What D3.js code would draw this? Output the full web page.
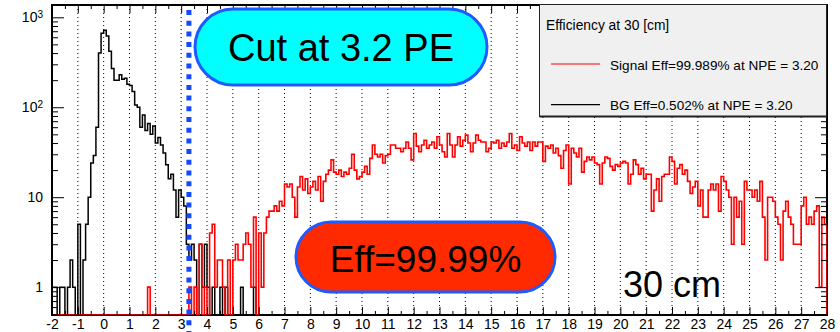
<!DOCTYPE html>
<html>
<head>
<meta charset="utf-8">
<script src="https://cdn.jsdelivr.net/npm/d3@7/dist/d3.min.js"></script>
<style>
  body { margin: 0; background: #fff; }
  svg { display: block; }
  text { font-family: "Liberation Sans", Arial, Helvetica, sans-serif; }
</style>
</head>
<body>
<svg id="chart" width="840" height="332"></svg>
<script>
// Histogram binning (NPE)
const binLow = -2;
const binWidth = 0.1;

// Signal counts per 0.1 PE bin, from -2.0 up to 27.9
const signalCounts = [
  0,0,0,0,0,0,0,0,0,0,
  0,0,0,0,0,0,0,0,0,0,
  0,0,0,0,0,0,0,0,0,0,
  0,0,0,0,0,0,0,1,0,0,
  0,0,0,0,0,0,0,0,0,0,
  0,0,0,1,0,1,0,3,0,1,
  0,4,5,1,2,2,1,0,2,0,
  2,3,2,2,3,4,3,1,6,0,
  4,1,4,6,7,7,8,7,9,8,
  14,13,14,10,6,13,17,12,16,11,
  13,15,12,17,9,15,18,20,26,19,
  18,20,17,19,18,21,30,20,16,17,
  19,22,18,27,38,30,28,30,24,29,
  30,38,38,35,35,32,35,41,35,26,
  51,37,32,38,43,35,38,41,35,47,
  38,32,28,51,38,28,38,47,37,43,
  49,40,32,40,49,43,41,41,32,35,
  41,40,43,35,40,37,41,51,35,38,
  33,47,40,37,41,33,41,37,41,41,
  25,37,35,38,31,35,29,21,33,38,
  14,35,31,28,35,19,25,28,26,28,
  24,23,14,24,28,27,22,20,23,22,
  24,25,24,14,18,26,23,18,21,16,
  18,18,7,12,16,9,17,18,18,28,
  25,14,21,23,18,20,15,11,13,15,
  8,12,6,6,12,14,12,14,7,17,
  15,12,10,3,10,6,9,3,15,12,
  12,10,12,9,15,6,2,10,10,9,
  6,5,2,7,9,6,5,3,3,3,
  8,10,5,6,5,7,8,1,6,5
];

// Background counts per 0.1 PE bin, from -2.0 up to 5.9
const bgCounts = [
  1,1,0,1,1,0,1,2,1,0,
  5,0,2,5,10,24,29,60,400,665,
  720,620,420,270,200,200,230,205,210,180,
  175,150,106,100,60,82,55,66,50,62,
  40,46,38,31,23,16,18,12,6,12,
  10,8,3,2,3,2,0,3,1,3,
  1,0,1,0,0,1,0,1,0,0,
  0,0,0,1,0,0,0,0,1,0
];

const xDomain = [-2, 28];
const yDomain = [0.49, 1370];
const xTickValues = [-2,-1,0,1,2,3,4,5,6,7,8,9,10,11,12,13,14,15,16,17,18,19,20,21,22,23,24,25,26,27,28];
const xTickLabels = ["-2","-1","0","1","2","3","4","5","6","7","8","9","10","11","12","13","14","15","16","17","18","19","20","21","22","23","24","25","26","27","28"];
const xMinorTicks = [-1.5,-0.5,0.5,1.5,2.5,3.5,4.5,5.5,6.5,7.5,8.5,9.5,10.5,11.5,12.5,13.5,14.5,15.5,16.5,17.5,18.5,19.5,20.5,21.5,22.5,23.5,24.5,25.5,26.5,27.5];
const xGridValues = [-1,0,1,2,3,4,5,6,7,8,9,10,11,12,13,14,15,16,17,18,19,20,21,22,23,24,25,26,27];
const yMajorTicks = [1, 10, 100, 1000];
const yTickBase = ["1", "10", "10", "10"];
const yTickExp = ["", "", "2", "3"];
const yMinorTicks = [0.5,0.6,0.7,0.8,0.9, 2,3,4,5,6,7,8,9, 20,30,40,50,60,70,80,90, 200,300,400,500,600,700,800,900];

const cutNPE = 3.2;
const cutLabel = "Cut at 3.2 PE";
const effLabel = "Eff=99.99%";
const distanceLabel = "30 cm";
const legendTitle = "Efficiency at 30 [cm]";
const legendLabels = ["Signal Eff=99.989% at NPE = 3.20", "BG Eff=0.502% at NPE = 3.20"];
const legendColors = ["#ff0000", "#000000"];

// ---- layout ----
const frame = { left: 52, right: 827, top: 5, bottom: 315 };
const svg = d3.select("#chart");
svg.append("rect").attr("width", 840).attr("height", 332).attr("fill", "#fff");

const x = d3.scaleLinear().domain(xDomain).range([frame.left, frame.right]);
const y = d3.scaleLog().domain(yDomain).range([frame.bottom, frame.top]);

svg.append("clipPath").attr("id", "frameClip")
  .append("rect")
  .attr("x", frame.left).attr("y", frame.top - 1)
  .attr("width", frame.right - frame.left)
  .attr("height", frame.bottom - frame.top + 1);

// dotted vertical grid
svg.append("g").selectAll("line").data(xGridValues).join("line")
  .attr("x1", d => x(d)).attr("x2", d => x(d))
  .attr("y1", frame.top).attr("y2", frame.bottom)
  .attr("stroke", "#000").attr("stroke-width", 1)
  .attr("stroke-dasharray", "1,3");

// step outline of a histogram; empty bins sit on the lower frame edge
function stepPoints(counts) {
  const floor = yDomain[0];
  const pts = [[binLow, floor]];
  counts.forEach((c, i) => {
    const lo = binLow + i * binWidth;
    const hi = lo + binWidth;
    const v = c > 0 ? c : floor;
    pts.push([lo, v], [hi, v]);
  });
  pts.push([binLow + counts.length * binWidth, floor]);
  return pts;
}
const stepLine = d3.line().x(p => x(p[0])).y(p => y(p[1]));

// frame
svg.append("rect")
  .attr("x", frame.left).attr("y", frame.top)
  .attr("width", frame.right - frame.left).attr("height", frame.bottom - frame.top)
  .attr("fill", "none").attr("stroke", "#000").attr("stroke-width", 2);

const histG = svg.append("g").attr("clip-path", "url(#frameClip)");
histG.append("path").attr("d", stepLine(stepPoints(bgCounts)))
  .attr("fill", "none").attr("stroke", "#000").attr("stroke-width", 1.5);
histG.append("path").attr("d", stepLine(stepPoints(signalCounts)))
  .attr("fill", "none").attr("stroke", "#ff0000").attr("stroke-width", 1.6)
  .attr("stroke-linejoin", "miter");

// axes: ticks point into the frame
function cleanAxis(g) { g.select(".domain").remove(); g.selectAll("line").attr("stroke", "#000"); }

svg.append("g").attr("transform", `translate(0,${frame.bottom})`)
  .call(d3.axisBottom(x).tickValues(xTickValues).tickSize(-8).tickFormat(""))
  .call(cleanAxis);
svg.append("g").attr("transform", `translate(0,${frame.bottom})`)
  .call(d3.axisBottom(x).tickValues(xMinorTicks).tickSize(-4).tickFormat(""))
  .call(cleanAxis);
svg.append("g").attr("transform", `translate(0,${frame.top})`)
  .call(d3.axisTop(x).tickValues(xTickValues).tickSize(-8).tickFormat(""))
  .call(cleanAxis);
svg.append("g").attr("transform", `translate(0,${frame.top})`)
  .call(d3.axisTop(x).tickValues(xMinorTicks).tickSize(-4).tickFormat(""))
  .call(cleanAxis);

const xLabels = svg.append("g").attr("transform", `translate(0,${frame.bottom})`)
  .call(d3.axisBottom(x).tickValues(xTickValues).tickSize(0).tickPadding(4)
    .tickFormat((d, i) => xTickLabels[i]))
  .call(cleanAxis);
xLabels.selectAll("text").attr("font-size", 14).attr("fill", "#000")
  .attr("font-family", "'Liberation Sans', Arial, sans-serif");

svg.append("g").attr("transform", `translate(${frame.left},0)`)
  .call(d3.axisLeft(y).tickValues(yMajorTicks).tickSize(-12).tickFormat(""))
  .call(cleanAxis);
svg.append("g").attr("transform", `translate(${frame.left},0)`)
  .call(d3.axisLeft(y).tickValues(yMinorTicks).tickSize(-6).tickFormat(""))
  .call(cleanAxis);
svg.append("g").attr("transform", `translate(${frame.right},0)`)
  .call(d3.axisRight(y).tickValues(yMajorTicks).tickSize(-12).tickFormat(""))
  .call(cleanAxis);
svg.append("g").attr("transform", `translate(${frame.right},0)`)
  .call(d3.axisRight(y).tickValues(yMinorTicks).tickSize(-6).tickFormat(""))
  .call(cleanAxis);

// y labels with superscript exponents
const yLab = svg.append("g").selectAll("text").data(yMajorTicks).join("text")
  .attr("x", 43).attr("y", d => y(d)).attr("dy", "0.36em")
  .attr("text-anchor", "end").attr("font-size", 14).attr("fill", "#000");
yLab.append("tspan").text((d, i) => yTickBase[i]);
yLab.append("tspan").attr("dy", "-0.45em").attr("font-size", 10).text((d, i) => yTickExp[i]);

// cut position: upper edge of the bin that holds the cut value
const cutEdge = (Math.floor((cutNPE - binLow) / binWidth + 1e-9) + 1) * binWidth + binLow;
svg.append("line")
  .attr("x1", x(cutEdge)).attr("x2", x(cutEdge))
  .attr("y1", 10).attr("y2", 332)
  .attr("stroke", "#1448ff").attr("stroke-width", 5)
  .attr("stroke-dasharray", "5,5.7");

// legend
const lg = svg.append("g");
lg.append("rect").attr("x", 539.5).attr("y", 4.5).attr("width", 287).attr("height", 112)
  .attr("fill", "#f0f0f0").attr("stroke", "#222").attr("stroke-width", 1);
lg.append("line").attr("x1", 539.5).attr("x2", 827).attr("y1", 116.5).attr("y2", 116.5)
  .attr("stroke", "#222").attr("stroke-width", 2);
lg.append("text").attr("x", 546).attr("y", 30).attr("font-size", 13.8).attr("fill", "#000").text(legendTitle);
legendLabels.forEach((t, i) => {
  const yy = 64 + i * 40.7;
  lg.append("line").attr("x1", 551).attr("x2", 600).attr("y1", yy).attr("y2", yy)
    .attr("stroke", legendColors[i]).attr("stroke-width", 1.2);
  lg.append("text").attr("x", 610).attr("y", yy + 5.5).attr("font-size", 13.6)
    .attr("fill", "#000").text(t);
});

// annotation boxes
function pill(x0, y0, w, h, fill, label, fontSize, baseline) {
  svg.append("rect").attr("x", x0).attr("y", y0).attr("width", w).attr("height", h)
    .attr("rx", h / 2).attr("ry", h / 2)
    .attr("fill", fill).attr("stroke", "#1e5bff").attr("stroke-width", 3);
  svg.append("text").attr("x", x0 + w / 2).attr("y", baseline)
    .attr("text-anchor", "middle").attr("font-size", fontSize).attr("fill", "#000")
    .text(label);
}
pill(195, 9, 292, 76, "#00ffff", cutLabel, 38, 61);
pill(296, 222, 259, 70, "#ff2a00", effLabel, 37, 272);

svg.append("text").attr("x", 623).attr("y", 297).attr("font-size", 36)
  .attr("fill", "#000").text(distanceLabel);
</script>
</body>
</html>
